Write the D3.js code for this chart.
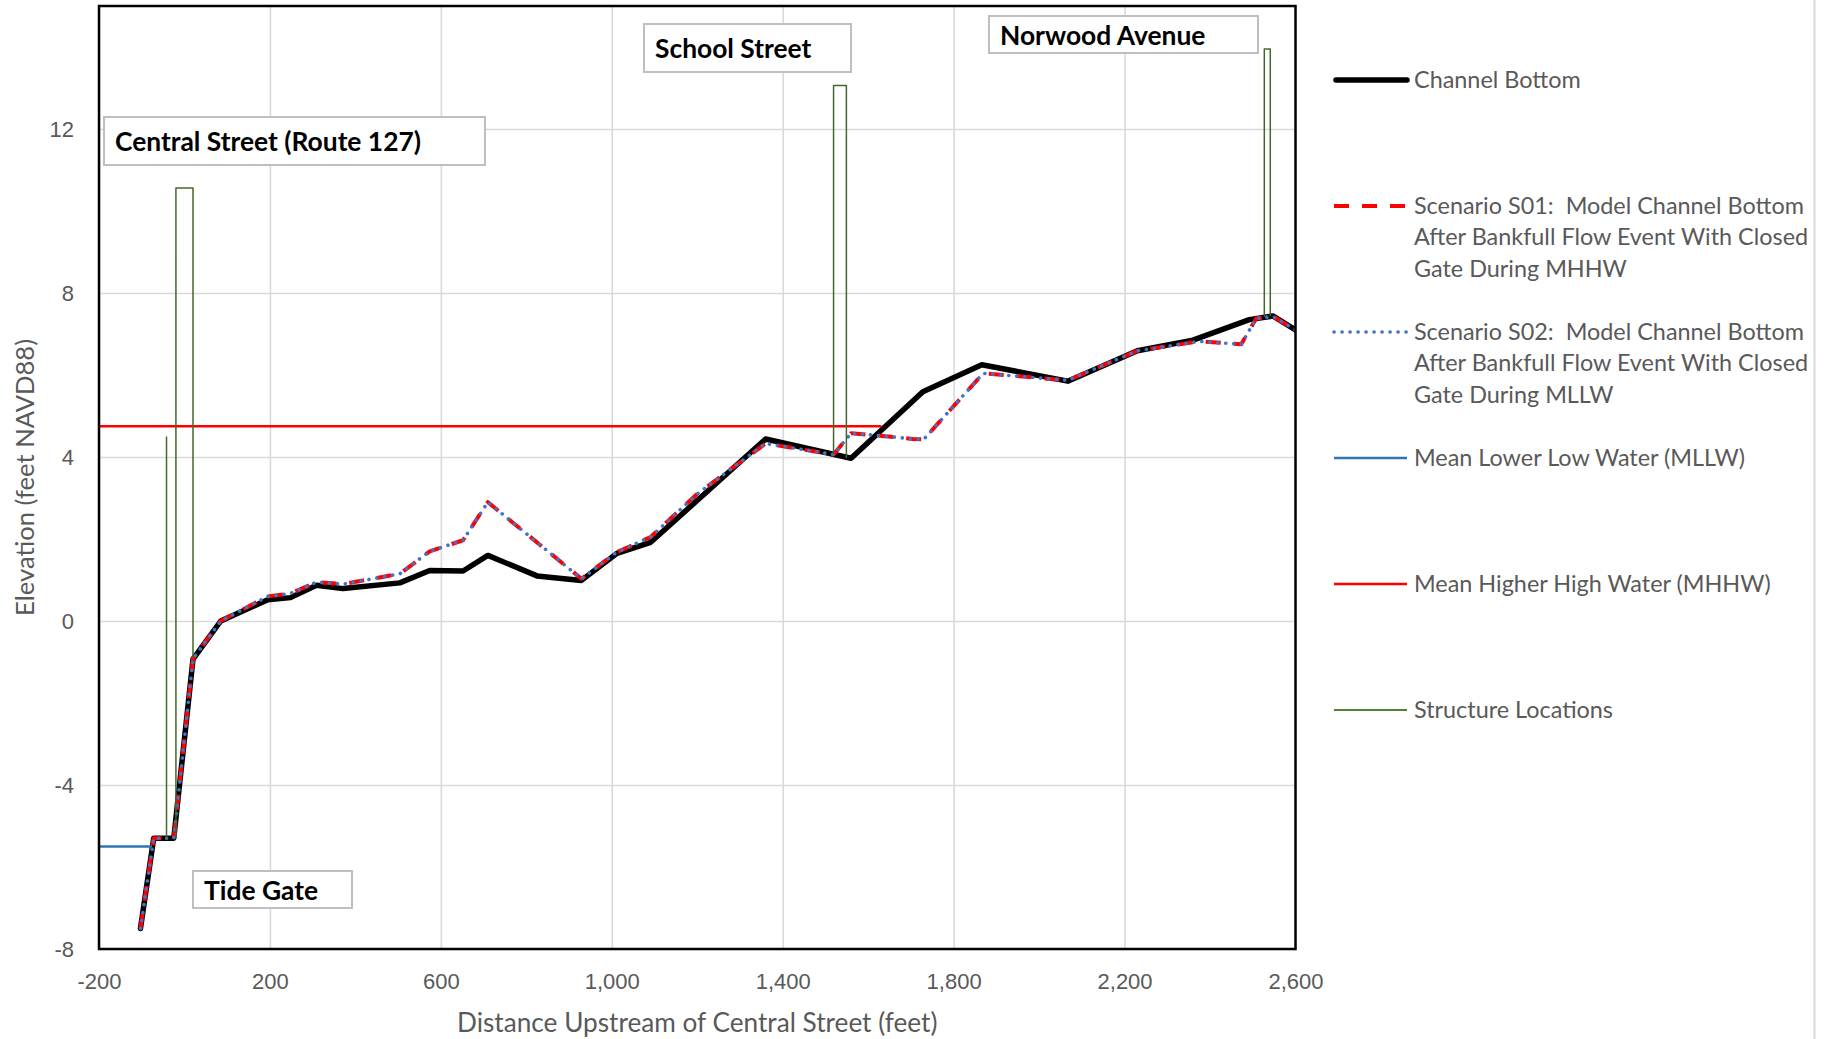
<!DOCTYPE html>
<html>
<head>
<meta charset="utf-8">
<script src="https://cdn.jsdelivr.net/npm/d3@7"></script>
<style>
  html, body { margin: 0; padding: 0; background: #ffffff; }
  svg { display: block; font-family: Lato, "Open Sans", "Noto Sans", sans-serif; }
  text { white-space: pre; }
</style>
</head>
<body>
<svg id="chart" width="1825" height="1039"></svg>
<script>
// ---- Data -------------------------------------------------------------
const xTicks = [-200, 200, 600, 1000, 1400, 1800, 2200, 2600];
const yTicks = [-8, -4, 0, 4, 8, 12];

// Surveyed channel bottom: [distance upstream (ft), elevation (ft NAVD88)]
const channelBottom = [
  [-103, -7.5], [-72, -5.3], [-25, -5.3], [20, -0.93], [85, 0], [195, 0.52],
  [248, 0.57], [309, 0.87], [371, 0.79], [504, 0.93], [574, 1.23], [652, 1.22],
  [710, 1.6], [825, 1.1], [929, 0.99], [1012, 1.65], [1091, 1.92], [1360, 4.44],
  [1560, 3.97], [1728, 5.59], [1866, 6.25], [2067, 5.85], [2230, 6.59],
  [2360, 6.85], [2492, 7.35], [2547, 7.44], [2600, 7.1]
];

// Modelled channel bottom, closed gate during MHHW
const scenarioS01 = [
  [-103, -7.5], [-72, -5.3], [-25, -5.3], [20, -0.92], [85, 0], [195, 0.6],
  [248, 0.67], [309, 0.95], [371, 0.9], [504, 1.15], [574, 1.7], [652, 1.97],
  [710, 2.9], [929, 1.03], [1012, 1.68], [1091, 2.05], [1200, 3.1], [1360, 4.33],
  [1519, 4.06], [1560, 4.58], [1627, 4.52], [1705, 4.44], [1730, 4.43],
  [1869, 6.04], [2067, 5.87], [2230, 6.59], [2375, 6.82], [2473, 6.75],
  [2508, 7.38], [2547, 7.43], [2600, 7.1]
];

// Modelled channel bottom, closed gate during MLLW
const scenarioS02 = [
  [-103, -7.5], [-72, -5.3], [-25, -5.3], [20, -0.92], [85, 0], [195, 0.6],
  [248, 0.67], [309, 0.95], [371, 0.9], [504, 1.15], [574, 1.7], [652, 1.97],
  [710, 2.9], [929, 1.03], [1012, 1.68], [1091, 2.05], [1200, 3.1], [1360, 4.33],
  [1519, 4.06], [1560, 4.58], [1627, 4.52], [1705, 4.44], [1730, 4.43],
  [1869, 6.04], [2067, 5.87], [2230, 6.59], [2375, 6.82], [2473, 6.75],
  [2508, 7.38], [2547, 7.43], [2600, 7.1]
];

const mllw = [[-200, -5.5], [-76, -5.5]];
const mhhw = [[-200, 4.75], [1631, 4.75]];

// Tide gate, Central Street, School Street and Norwood Avenue structures
const structureLocations = [
  [[-42, -5.3], [-42, 4.5]],
  [[-20, -5.3], [-20, 10.56], [20, 10.56], [20, -0.92]],
  [[1519, 4.06], [1519, 13.06], [1549, 13.06], [1549, 3.97]],
  [[2527, 7.42], [2527, 13.95], [2541, 13.95], [2541, 7.44]]
];

const legendLabels = [
  ["Channel Bottom"],
  ["Scenario S01:  Model Channel Bottom", "After Bankfull Flow Event With Closed", "Gate During MHHW"],
  ["Scenario S02:  Model Channel Bottom", "After Bankfull Flow Event With Closed", "Gate During MLLW"],
  ["Mean Lower Low Water (MLLW)"],
  ["Mean Higher High Water (MHHW)"],
  ["Structure Locations"]
];

const annotationLabels = ["Central Street (Route 127)", "School Street", "Norwood Avenue", "Tide Gate"];

// ---- Layout -----------------------------------------------------------
const plot = { left: 99, right: 1295.5, top: 6, bottom: 949 };
const textGray = "#595959";
const gridGray = "#d9d9d9";

const styles = [
  { stroke: "#000000", width: 5.5, dash: null, cap: "round" },
  { stroke: "#ff0000", width: 4, dash: "15 13", cap: "butt" },
  { stroke: "#4472c4", width: 3.6, dash: "0.1 7.9", cap: "round" },
  { stroke: "#2e75b6", width: 2.5, dash: null, cap: "butt" },
  { stroke: "#ff0000", width: 2.5, dash: null, cap: "butt" },
  { stroke: "#41682b", width: 1.5, dash: null, cap: "butt" }
];

// Label boxes: [x, y, width, height]
const annotationBoxes = [
  [104, 117, 381, 48],
  [644, 24, 207, 48],
  [989, 16, 269, 37],
  [193, 871, 159, 37]
];

const svg = d3.select("#chart");

const x = d3.scaleLinear().domain([-200, 2600]).range([plot.left, plot.right]);
const y = d3.scaleLinear().domain([-8, 15]).range([plot.bottom, plot.top]);
const fmt = v => d3.format(",")(v).replace("\u2212", "-");

// Outer chart frame (right edge)
svg.append("line")
  .attr("x1", 1814.5).attr("x2", 1814.5).attr("y1", 0).attr("y2", 1039)
  .attr("stroke", gridGray).attr("stroke-width", 2);

// Gridlines
const gx = svg.append("g")
  .attr("transform", `translate(0,${plot.bottom})`)
  .call(d3.axisBottom(x).tickValues(xTicks).tickSize(-(plot.bottom - plot.top)).tickFormat(""));
gx.select(".domain").remove();
gx.selectAll(".tick line").attr("stroke", gridGray).attr("stroke-width", 1.6);

const gy = svg.append("g")
  .attr("transform", `translate(${plot.left},0)`)
  .call(d3.axisLeft(y).tickValues(yTicks).tickSize(-(plot.right - plot.left)).tickFormat(""));
gy.select(".domain").remove();
gy.selectAll(".tick line").attr("stroke", gridGray).attr("stroke-width", 1.6);

// Tick labels
const xl = svg.append("g")
  .attr("transform", `translate(0,${plot.bottom})`)
  .call(d3.axisBottom(x).tickValues(xTicks).tickSize(0).tickPadding(24).tickFormat(fmt));
xl.select(".domain").remove();
xl.selectAll("text").attr("fill", textGray).attr("font-size", 22).attr("font-family", null);

const yl = svg.append("g")
  .attr("transform", `translate(${plot.left},0)`)
  .call(d3.axisLeft(y).tickValues(yTicks).tickSize(0).tickPadding(25).tickFormat(fmt));
yl.select(".domain").remove();
yl.selectAll("text").attr("fill", textGray).attr("font-size", 22).attr("font-family", null);

// Axis titles
svg.append("text")
  .attr("x", (plot.left + plot.right) / 2).attr("y", 1032)
  .attr("text-anchor", "middle").attr("fill", textGray).attr("font-size", 26.2)
  .text("Distance Upstream of Central Street (feet)");

svg.append("text")
  .attr("transform", `translate(34,${(plot.top + plot.bottom) / 2}) rotate(-90)`)
  .attr("text-anchor", "middle").attr("fill", textGray).attr("font-size", 25.6)
  .text("Elevation (feet NAVD88)");

// Series
svg.append("clipPath").attr("id", "plotClip")
  .append("rect")
  .attr("x", plot.left).attr("y", plot.top)
  .attr("width", plot.right - plot.left).attr("height", plot.bottom - plot.top);

const line = d3.line().x(d => x(d[0])).y(d => y(d[1]));
const series = svg.append("g").attr("clip-path", "url(#plotClip)");

function drawPath(data, s) {
  series.append("path")
    .datum(data)
    .attr("d", line)
    .attr("fill", "none")
    .attr("stroke", s.stroke)
    .attr("stroke-width", s.width)
    .attr("stroke-dasharray", s.dash)
    .attr("stroke-linecap", s.cap)
    .attr("stroke-linejoin", "round");
}

drawPath(channelBottom, styles[0]);
drawPath(scenarioS01, styles[1]);
drawPath(scenarioS02, styles[2]);
drawPath(mllw, styles[3]);
drawPath(mhhw, styles[4]);
structureLocations.forEach(seg => drawPath(seg, styles[5]));

// Structure label boxes
annotationLabels.forEach((label, i) => {
  const [bx, by, bw, bh] = annotationBoxes[i];
  svg.append("rect")
    .attr("x", bx).attr("y", by).attr("width", bw).attr("height", bh)
    .attr("fill", "#ffffff").attr("stroke", "#bfbfbf").attr("stroke-width", 2);
  svg.append("text")
    .attr("x", bx + 11).attr("y", by + bh / 2 + 1).attr("dy", "0.35em")
    .attr("font-size", 26.4).attr("font-weight", "bold").attr("fill", "#000000")
    .text(label);
});

// Plot frame
svg.append("rect")
  .attr("x", plot.left).attr("y", plot.top)
  .attr("width", plot.right - plot.left).attr("height", plot.bottom - plot.top)
  .attr("fill", "none").attr("stroke", "#000000").attr("stroke-width", 2.5);

// Legend
const legend = svg.append("g").attr("transform", "translate(1334,80)");
legendLabels.forEach((lines, i) => {
  const s = styles[i];
  const g = legend.append("g").attr("transform", `translate(0,${i * 126})`);
  g.append("line")
    .attr("x1", s.cap === "round" && !s.dash ? 2 : 0).attr("x2", 73)
    .attr("y1", 0).attr("y2", 0)
    .attr("stroke", i === 5 ? "#548235" : s.stroke)
    .attr("stroke-width", i === 5 ? 2 : s.width)
    .attr("stroke-dasharray", s.dash)
    .attr("stroke-linecap", s.cap);
  lines.forEach((t, j) => {
    g.append("text")
      .attr("x", 80).attr("y", j * 31.3).attr("dy", "0.35em")
      .attr("font-size", 23.4).attr("fill", textGray)
      .text(t);
  });
});
</script>
</body>
</html>
